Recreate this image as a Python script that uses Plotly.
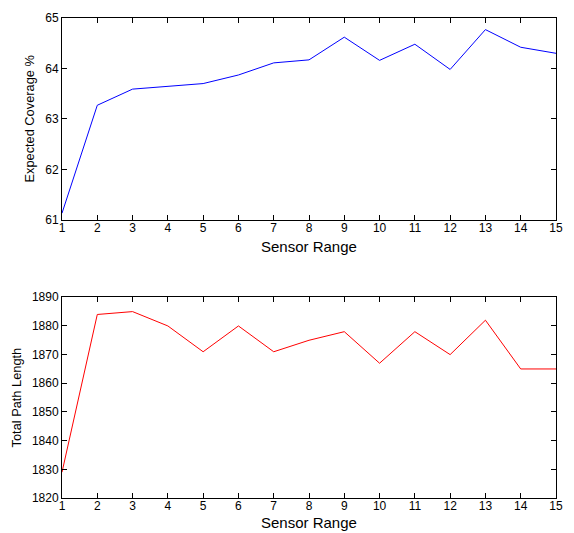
import plotly.graph_objects as go
from plotly.subplots import make_subplots

sensor_range = list(range(1, 16))
expected_coverage = [61.13, 63.27, 63.59, 63.65, 63.70, 63.87, 64.11, 64.17,
                     64.62, 64.16, 64.48, 63.98, 64.77, 64.42, 64.30]
total_path_length = [1829, 1884, 1885, 1880, 1871, 1880, 1871, 1875,
                     1878, 1867, 1878, 1870, 1882, 1865, 1865]
x_title = "Sensor Range"

fig = make_subplots(rows=2, cols=1)
fig.add_trace(go.Scatter(x=sensor_range, y=expected_coverage, mode="lines",
                         line=dict(color="#0000ff", width=1)), row=1, col=1)
fig.add_trace(go.Scatter(x=sensor_range, y=total_path_length, mode="lines",
                         line=dict(color="#ff0000", width=1)), row=2, col=1)

axis_common = dict(showline=True, linecolor="black", linewidth=1, mirror="ticks",
                   ticks="inside", ticklen=5, tickcolor="black", showgrid=False,
                   zeroline=False, tickfont=dict(size=12, color="black"))

top_bottom = 0.5797
fig.update_xaxes(**axis_common, range=[1, 15], dtick=1, tick0=1, ticklabelstandoff=-3)
fig.update_yaxes(**axis_common)
fig.update_yaxes(range=[61, 65], dtick=1, domain=[top_bottom, 1.0],
                 title=dict(text="Expected Coverage %", font=dict(size=12.8, color="black"), standoff=7),
                 row=1, col=1)
fig.update_yaxes(range=[1820, 1890], dtick=10, domain=[0.0, 0.4182],
                 title=dict(text="Total Path Length", font=dict(size=12.8, color="black"), standoff=7),
                 row=2, col=1)

fig.add_annotation(text=x_title, xref="paper", yref="paper", x=0.5, y=top_bottom,
                   xanchor="center", yanchor="middle", yshift=-27, showarrow=False,
                   font=dict(size=15, color="black"))
fig.add_annotation(text=x_title, xref="paper", yref="paper", x=0.5, y=0.0,
                   xanchor="center", yanchor="bottom", yshift=-35, showarrow=False,
                   font=dict(size=15, color="black"))

fig.update_layout(width=574, height=533, showlegend=False,
                  margin=dict(l=62, r=11, t=15, b=35),
                  plot_bgcolor="white", paper_bgcolor="white",
                  font=dict(family="Liberation Sans, Arial, Helvetica, sans-serif", color="black"))

fig.write_html("out.html", config={"displayModeBar": False},
               post_script="document.body.style.margin='0';document.body.style.overflow='hidden';")
